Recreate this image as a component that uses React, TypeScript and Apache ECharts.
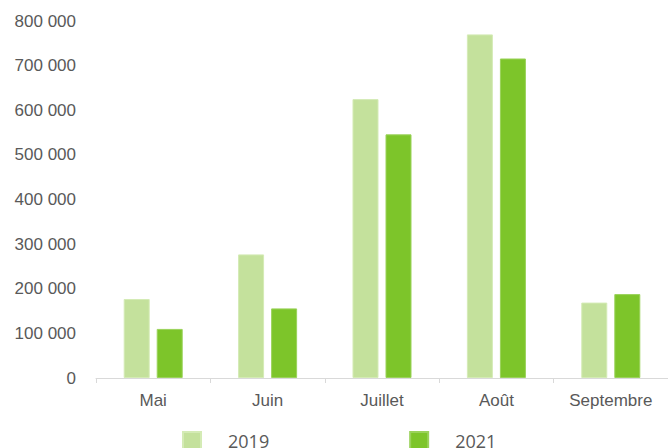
import React, { useEffect, useRef } from "react";
import * as echarts from "echarts";

const categories = ["Mai", "Juin", "Juillet", "Août", "Septembre"];
const values2019 = [177000, 277000, 625000, 770000, 169000];
const values2021 = [110000, 156000, 546000, 716000, 188000];
const seriesNames = ["2019", "2021"];

const fmt = (v: number) => String(v).replace(/\B(?=(\d{3})+(?!\d))/g, " ");

export default function App() {
  const ref = useRef<HTMLDivElement>(null);
  useEffect(() => {
    if (!ref.current) return;
    const chart = echarts.init(ref.current, undefined, { renderer: "svg" });
    chart.setOption({
      animation: false,
      backgroundColor: "#ffffff",
      grid: { left: 96, top: 21, bottom: 70, width: 580, containLabel: false },
      legend: {
        left: 182,
        top: 431,
        padding: 0,
        itemWidth: 18,
        itemHeight: 18,
        itemGap: 140,
        icon: "rect",
        textStyle: {
          fontFamily: "Open Sans",
          fontSize: 18,
          color: "#595959",
          padding: [0, 0, 0, 22],
        },
        data: seriesNames,
      },
      xAxis: {
        type: "category",
        data: categories,
        axisLine: { show: true, lineStyle: { color: "#d9d9d9", width: 1 } },
        axisTick: { show: true, length: 5, lineStyle: { color: "#d9d9d9" } },
        axisLabel: {
          margin: 14,
          fontFamily: "Liberation Sans",
          fontSize: 17,
          color: "#595959",
        },
      },
      yAxis: {
        type: "value",
        min: 0,
        max: 800000,
        interval: 100000,
        axisLine: { show: false },
        axisTick: { show: false },
        splitLine: { show: false },
        axisLabel: {
          margin: 20,
          fontFamily: "Liberation Sans",
          fontSize: 17,
          color: "#595959",
          formatter: (v: number) => fmt(v),
        },
      },
      series: [
        {
          name: seriesNames[0],
          type: "bar",
          data: values2019,
          barWidth: 26,
          barGap: "27%",
          itemStyle: { color: "#c4e19c", borderColor: "#d4ebb5", borderWidth: 1 },
        },
        {
          name: seriesNames[1],
          type: "bar",
          data: values2021,
          barWidth: 26,
          itemStyle: { color: "#7dc52a", borderColor: "#9ad25a", borderWidth: 1 },
        },
      ],
    });
    return () => chart.dispose();
  }, []);
  return <div ref={ref} style={{ width: 668, height: 448, position: "absolute", left: 0, top: 0 }} />;
}
